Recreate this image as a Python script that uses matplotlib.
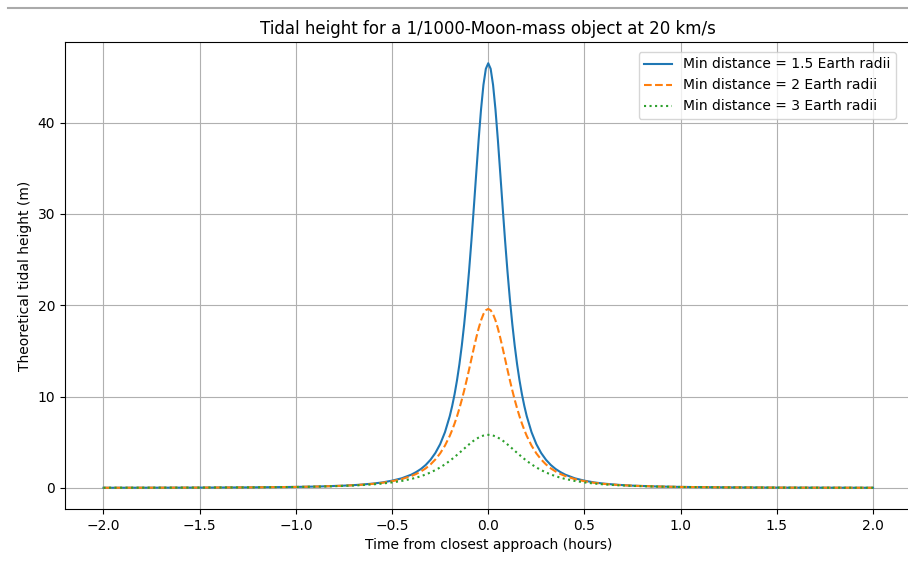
import numpy as np
import matplotlib.pyplot as plt
from matplotlib.lines import Line2D

# time from closest approach (hours), positive half; curves are symmetric
t_half = [0.0, 0.0125, 0.025, 0.0375, 0.05, 0.0625, 0.075, 0.0875, 0.1, 0.1125,
          0.125, 0.1375, 0.15, 0.1625, 0.175, 0.1875, 0.2, 0.225, 0.25, 0.275,
          0.3, 0.325, 0.35, 0.375, 0.4, 0.45, 0.5, 0.55, 0.6, 0.675,
          0.75, 0.875, 1.0, 1.25, 1.5, 2.0]

# tidal height (m)
h_15 = [46.5, 45.89, 44.13, 41.44, 38.11, 34.43, 30.69, 27.06, 23.69, 20.64,
        17.94, 15.58, 13.53, 11.77, 10.26, 8.97, 7.86, 6.10, 4.79, 3.82,
        3.08, 2.51, 2.07, 1.73, 1.45, 1.05, 0.79, 0.60, 0.47, 0.334,
        0.246, 0.157, 0.106, 0.055, 0.032, 0.0135]
h_2 = [19.6, 19.45, 19.03, 18.35, 17.47, 16.43, 15.30, 14.12, 12.93, 11.78,
       10.68, 9.65, 8.70, 7.83, 7.05, 6.34, 5.70, 4.63, 3.78, 3.11,
       2.57, 2.14, 1.80, 1.52, 1.30, 0.96, 0.73, 0.56, 0.44, 0.32,
       0.237, 0.153, 0.104, 0.054, 0.032, 0.0134]
h_3 = [5.81, 5.79, 5.73, 5.64, 5.51, 5.36, 5.18, 4.98, 4.76, 4.53,
       4.30, 4.07, 3.83, 3.61, 3.38, 3.17, 2.96, 2.58, 2.24, 1.95,
       1.69, 1.47, 1.28, 1.12, 0.98, 0.76, 0.60, 0.477, 0.385, 0.285,
       0.216, 0.142, 0.098, 0.052, 0.031, 0.013]

labels = ['Min distance = 1.5 Earth radii', 'Min distance = 2 Earth radii',
          'Min distance = 3 Earth radii']


def mirror(t, h):
    t = np.array(t)
    h = np.array(h)
    return np.concatenate([-t[:0:-1], t]), np.concatenate([h[:0:-1], h])


fig = plt.figure(figsize=(9.08, 5.61), dpi=100)
# the reference is cropped on the right, so the axes run slightly past the edge
ax = fig.add_axes([65 / 908, 52 / 561, 846.5 / 908, 467 / 561])

tt, y1 = mirror(t_half, h_15)
ax.plot(tt, y1, label=labels[0])
tt, y2 = mirror(t_half, h_2)
ax.plot(tt, y2, '--', label=labels[1])
tt, y3 = mirror(t_half, h_3)
ax.plot(tt, y3, ':', label=labels[2])

ax.set_title('Tidal height for a 1/1000-Moon-mass object at 20 km/s')
ax.set_xlabel('Time from closest approach (hours)')
ax.set_ylabel('Theoretical tidal height (m)')
ax.set_xticks([-2.0, -1.5, -1.0, -0.5, 0.0, 0.5, 1.0, 1.5, 2.0])
ax.grid(True)
ax.legend(loc='upper right', bbox_to_anchor=((903 - 65) / 846.5, 1 - 3 / 467))

# separator line above the figure
fig.add_artist(Line2D([8 / 908, 1.0], [1 - 8 / 561, 1 - 8 / 561], color='#aaaaaa', lw=1.5))

fig.savefig('out.png', dpi=100)
